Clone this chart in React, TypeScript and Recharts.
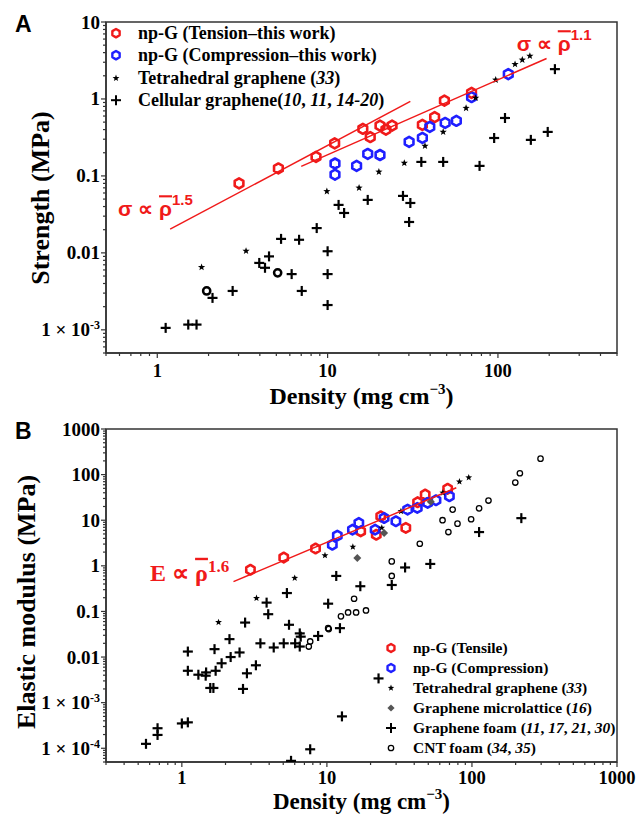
import React from 'react';
import { ScatterChart, Scatter, XAxis, YAxis, ReferenceArea, Legend } from 'recharts';

const SERIF = '"Liberation Serif", "Times New Roman", serif';
const SANS = '"Liberation Sans", Arial, sans-serif';
const RED = '#f01a1a';
const BLUE = '#1f1fff';
const AX = '#333';

// ---------------- Panel A: strength vs density ----------------
const aTensionDensity = [3.02, 5.14, 8.55, 11.0, 16.1, 17.8, 20.3, 22.0, 23.9, 36.0, 42.5, 48.5, 70.0];
const aTensionStrength = [0.08, 0.125, 0.177, 0.265, 0.41, 0.32, 0.45, 0.40, 0.45, 0.46, 0.58, 0.95, 1.2];
const aCompDensity = [11.05, 11.05, 14.8, 17.2, 20.3, 30.1, 36.0, 39.8, 49.0, 57.0, 70.0, 115];
const aCompStrength = [0.145, 0.104, 0.135, 0.193, 0.187, 0.277, 0.311, 0.433, 0.488, 0.52, 1.06, 2.1];
const aTetraDensity = [1.82, 3.32, 9.9, 15.3, 20.0, 28.2, 37.3, 47.7, 65.0, 74.0, 97.0, 126, 139, 154];
const aTetraStrength = [0.0065, 0.0106, 0.063, 0.07, 0.113, 0.147, 0.245, 0.373, 0.76, 1.03, 1.77, 2.83, 3.22, 3.62];
const aCellDensity = [216, 110, 95, 196, 156, 78, 47.7, 35.5, 27.7, 30.6, 30.1, 17.2, 11.6, 12.5, 8.63, 6.8, 5.33,
  10.0, 10.0, 10.0, 7.05, 6.15, 4.53, 3.97, 4.29, 2.77, 2.11, 1.70, 1.52, 1.12];
const aCellStrength = [2.44, 0.566, 0.311, 0.373, 0.294, 0.135, 0.152, 0.152, 0.055, 0.0445, 0.0252, 0.0488, 0.042,
  0.033, 0.021, 0.0148, 0.0152, 0.0105, 0.0053, 0.0021, 0.0032, 0.0053, 0.009, 0.0074, 0.0064, 0.0032, 0.0026,
  0.00117, 0.00117, 0.00106];
const aRingDensity = [1.95, 5.09];
const aRingStrength = [0.0032, 0.0055];
const aFit15Density = [1.19, 30.6];
const aFit15Strength = [0.0203, 0.93];
const aFit11Density = [7.0, 193];
const aFit11Strength = [0.133, 3.36];

const aXDomain = [0.5, 500];
const aYDomain = [5e-4, 10];
const aXMajor = [1, 10, 100];
const aXLabels = ['1', '10', '100'];
const aYMajor = [1e-3, 0.01, 0.1, 1, 10];
const aYLabels = ['1 × 10^-3', '0.01', '0.1', '1', '10'];

// ---------------- Panel B: elastic modulus vs density ----------------
const bTensileDensity = [2.97, 5.04, 8.35, 17.1, 21.9, 23.5, 35.0, 42.2, 47.6, 68.0];
const bTensileModulus = [0.82, 1.52, 2.4, 5.7, 4.8, 12.2, 6.8, 24.8, 36.6, 48.9];
const bCompDensity = [10.9, 11.8, 15.0, 16.6, 21.5, 24.8, 29.9, 36.0, 42.0, 49.5, 56.5, 69.9];
const bCompModulus = [2.9, 4.6, 6.2, 8.7, 6.2, 11.2, 9.5, 17.1, 18.6, 24.0, 27.4, 33.6];
const bTetraDensity = [1.79, 3.27, 6.0, 9.7, 15.1, 23.9, 32.4, 63.0, 82.0, 95.0];
const bTetraModulus = [0.058, 0.195, 0.54, 1.69, 2.6, 6.8, 15.7, 40.0, 70.0, 86.0];
const bLatticeDensity = [16.2, 24.8, 52.0];
const bLatticeModulus = [1.48, 5.25, 25.3];
const bFoamDensity = [219, 112, 51.6, 34.6, 28.0, 17.0, 11.6, 5.3, 3.84, 10.2, 3.94, 2.73, 5.48, 6.5, 6.6, 8.7, 12.3,
  3.48, 4.3, 5.04, 6.04, 6.5, 2.13, 1.68, 1.1, 1.1, 1.3, 1.47, 1.46, 1.71, 1.88, 2.17, 2.5, 3.24, 2.81, 2.64, 1.57,
  1.65, 22.7, 12.7, 7.67, 5.66, 1.0, 1.1, 0.68, 0.68, 0.566];
const bFoamModulus = [11.1, 5.5, 1.1, 0.92, 0.38, 0.357, 0.6, 0.253, 0.156, 0.148, 0.087, 0.057, 0.051, 0.033, 0.028,
  0.029, 0.043, 0.020, 0.0162, 0.020, 0.020, 0.017, 0.0247, 0.0149, 0.0132, 0.005, 0.0041, 0.0046, 0.0039, 0.005,
  0.0073, 0.01, 0.0126, 0.0066, 0.0044, 0.002, 0.0021, 0.0021, 0.0034, 5.0e-4, 9.5e-5, 5.3e-5, 3.5e-4, 3.7e-4,
  2.75e-4, 1.96e-4, 1.25e-4];
const bCntDensity = [297, 214, 199, 130, 112, 98.7, 79.5, 73.6, 62.7, 68.8, 43.7, 28.0, 28.0, 15.4, 12.5, 14.0, 15.9,
  18.6, 10.2, 10.3, 7.67, 7.5];
const bCntModulus = [224, 107, 67, 27, 18.2, 10.5, 8.4, 17.1, 10.0, 5.5, 3.05, 1.25, 0.6, 0.19, 0.078, 0.095, 0.095,
  0.105, 0.043, 0.041, 0.022, 0.017];
const bFitDensity = [2.27, 78];
const bFitModulus = [0.45, 51.4];

const bXDomain = [0.3, 1000];
const bYDomain = [5e-5, 1000];
const bXMajor = [1, 10, 100, 1000];
const bXLabels = ['1', '10', '100', '1000'];
const bYMajor = [1e-4, 1e-3, 0.01, 0.1, 1, 10, 100, 1000];
const bYLabels = ['1 × 10^-4', '1 × 10^-3', '0.01', '0.1', '1', '10', '100', '1000'];

// annotation anchors (data coordinates)
const aAnno15 = [{ x: 0.588, y: 0.0299 }];
const aAnno11 = [{ x: 128.9, y: 4.17 }];
const bAnno16 = [{ x: 0.604, y: 0.47 }];

const zip = (xs: number[], ys: number[]) => xs.map((x, i) => ({ x, y: ys[i] }));

function logTicks(lo: number, hi: number): number[] {
  const out: number[] = [];
  for (let e = Math.floor(Math.log10(lo)); e <= Math.ceil(Math.log10(hi)); e++) {
    for (let m = 1; m <= 9; m++) {
      const v = parseFloat((m * Math.pow(10, e)).toPrecision(6));
      if (v >= lo * 0.9999 && v <= hi * 1.0001) out.push(v);
    }
  }
  return out;
}

// ---------------- marker shapes ----------------
const hexPath = (cx: number, cy: number, r: number) => {
  const pts: string[] = [];
  for (let k = 0; k < 6; k++) {
    const a = (Math.PI / 3) * k - Math.PI / 2;
    pts.push(`${(cx + r * Math.cos(a)).toFixed(2)},${(cy + r * Math.sin(a)).toFixed(2)}`);
  }
  return 'M' + pts.join('L') + 'Z';
};
const Hex = (cx: number, cy: number, color: string, r = 5, w = 2.6) => (
  <path d={hexPath(cx, cy, r)} fill="none" stroke={color} strokeWidth={w} strokeLinejoin="round" />
);
const starPath = (cx: number, cy: number, R: number, r: number) => {
  const pts: string[] = [];
  for (let k = 0; k < 10; k++) {
    const a = (Math.PI / 5) * k - Math.PI / 2;
    const rr = k % 2 === 0 ? R : r;
    pts.push(`${(cx + rr * Math.cos(a)).toFixed(2)},${(cy + rr * Math.sin(a)).toFixed(2)}`);
  }
  return 'M' + pts.join('L') + 'Z';
};
const Star = (cx: number, cy: number, R = 3.8) => <path d={starPath(cx, cy, R, R * 0.42)} fill="#000" stroke="none" />;
const Cross = (cx: number, cy: number, s = 5, w = 2.2) => (
  <g stroke="#000" strokeWidth={w}>
    <line x1={cx - s} x2={cx + s} y1={cy} y2={cy} />
    <line x1={cx} x2={cx} y1={cy - s} y2={cy + s} />
  </g>
);
const Ring = (cx: number, cy: number, r = 3.6, w = 2.5) => (
  <circle cx={cx} cy={cy} r={r} fill="none" stroke="#000" strokeWidth={w} />
);
const SmallRing = (cx: number, cy: number) => <circle cx={cx} cy={cy} r={2.7} fill="none" stroke="#000" strokeWidth={1.3} />;
const Diamond = (cx: number, cy: number, s = 4) => (
  <path d={`M${cx},${cy - s}L${cx + s},${cy}L${cx},${cy + s}L${cx - s},${cy}Z`} fill="#555" stroke="none" />
);

// ---------------- ticks ----------------
const renderLabel = (lab: string) => {
  if (lab.includes('^')) {
    const [base, exp] = lab.split('^');
    return [
      <tspan key="b">{base}</tspan>,
      <tspan key="e" dy={-7} fontSize={12}>{exp}</tspan>,
    ];
  }
  return lab;
};
const isMajorIdx = (majors: number[], v: number) => majors.findIndex((m) => Math.abs(m - v) <= m * 1e-6);

const makeXTick = (majors: number[], labels: string[], dy: number) => (p: any) => {
  const { x, y, payload } = p;
  const idx = isMajorIdx(majors, payload.value);
  const major = idx >= 0;
  return (
    <g>
      <line x1={x} x2={x} y1={y} y2={y + (major ? 5 : 3)} stroke={AX} strokeWidth={1.2} />
      {major && (
        <text x={x} y={y + dy} textAnchor="middle" fontFamily={SERIF} fontWeight="bold" fontSize={18.5} fill="#000">
          {labels[idx]}
        </text>
      )}
    </g>
  );
};
const makeYTick = (majors: number[], labels: string[]) => (p: any) => {
  const { x, y, payload } = p;
  const idx = isMajorIdx(majors, payload.value);
  const major = idx >= 0;
  return (
    <g>
      <line x1={x} x2={x - (major ? 5 : 3)} y1={y} y2={y} stroke={AX} strokeWidth={1.2} />
      {major && (
        <text x={x - 6} y={y + 6.5} textAnchor="end" fontFamily={SERIF} fontWeight="bold" fontSize={19} fill="#000">
          {renderLabel(labels[idx])}
        </text>
      )}
    </g>
  );
};

// ---------------- titles ----------------
const xTitle = (baseline: number, size: number) => (props: any) => {
  const vb = props.viewBox || { x: 106, width: 511 };
  return (
    <text x={vb.x + vb.width / 2} y={baseline} textAnchor="middle" fontFamily={SERIF} fontWeight="bold" fontSize={size} fill="#000">
      Density (mg cm
      <tspan dy={-10} fontSize={15}>−3</tspan>
      <tspan dy={10}>)</tspan>
    </text>
  );
};
const yTitle = (text: string, cx: number, cy: number, letter: string, letterY: number) => () => (
  <g>
    <text
      x={cx}
      y={cy}
      transform={`rotate(-90, ${cx}, ${cy})`}
      textAnchor="middle"
      dominantBaseline="central"
      fontFamily={SERIF}
      fontWeight="bold"
      fontSize={26}
      fill="#000"
    >
      {text}
    </text>
    <text x={15} y={letterY} fontFamily={SANS} fontWeight="bold" fontSize={23} fill="#000">
      {letter}
    </text>
  </g>
);

// ---------------- annotations ----------------
const SigmaAnno = (exp: string) => (p: any) => (
  <text x={p.cx} y={p.cy} fill={RED} fontFamily={SANS} fontWeight="bold" fontSize={21}>
    <tspan>σ ∝ </tspan>
    <tspan style={{ textDecoration: 'overline' }}>ρ</tspan>
    <tspan dy={-11} fontSize={15}>{exp}</tspan>
  </text>
);
const EAnno = (p: any) => (
  <text x={p.cx} y={p.cy} fill={RED} fontFamily={SERIF} fontWeight="bold" fontSize={24}>
    <tspan>E ∝ </tspan>
    <tspan style={{ textDecoration: 'overline' }}>ρ</tspan>
    <tspan dy={-9} fontSize={17}>1.6</tspan>
  </text>
);

// ---------------- legend ----------------
type LegendItem = { marker: (cx: number, cy: number) => React.ReactNode; label: React.ReactNode };
const legendA: LegendItem[] = [
  { marker: (x, y) => Hex(x, y, RED, 4.2, 2.4), label: 'np-G (Tension–this work)' },
  { marker: (x, y) => Hex(x, y, BLUE, 4.2, 2.4), label: 'np-G (Compression–this work)' },
  { marker: (x, y) => Star(x, y, 3.6), label: <>Tetrahedral graphene (<i>33</i>)</> },
  { marker: (x, y) => Cross(x, y, 5, 2), label: <>Cellular graphene(<i>10</i>, <i>11</i>, <i>14-20</i>)</> },
];
const legendB: LegendItem[] = [
  { marker: (x, y) => Hex(x, y, RED, 4, 2.4), label: 'np-G (Tensile)' },
  { marker: (x, y) => Hex(x, y, BLUE, 4, 2.4), label: 'np-G (Compression)' },
  { marker: (x, y) => Star(x, y, 3.4), label: <>Tetrahedral graphene (<i>33</i>)</> },
  { marker: (x, y) => Diamond(x, y, 3.6), label: <>Graphene microlattice (<i>16</i>)</> },
  { marker: (x, y) => Cross(x, y, 5, 2), label: <>Graphene foam (<i>11</i>, <i>17</i>, <i>21</i>, <i>30</i>)</> },
  { marker: (x, y) => SmallRing(x, y), label: <>CNT foam (<i>34</i>, <i>35</i>)</> },
];
const LegendBox = (items: LegendItem[], fontSize: number, rowH: number) => () => (
  <div style={{ fontFamily: SERIF, fontWeight: 'bold', fontSize, color: '#000', lineHeight: 1 }}>
    {items.map((it, i) => (
      <div key={i} style={{ display: 'flex', alignItems: 'center', height: rowH, whiteSpace: 'nowrap' }}>
        <svg width={20} height={rowH} style={{ flex: 'none', overflow: 'visible' }}>
          {it.marker(10, rowH / 2)}
        </svg>
        <span style={{ marginLeft: 12 }}>{it.label}</span>
      </div>
    ))}
  </div>
);

const noShape = () => <g />;

export default function App() {
  const aXTicks = logTicks(aXDomain[0], aXDomain[1]);
  const aYTicks = logTicks(aYDomain[0], aYDomain[1]);
  const bXTicks = logTicks(bXDomain[0], bXDomain[1]);
  const bYTicks = logTicks(bYDomain[0], bYDomain[1]);

  return (
    <div style={{ position: 'absolute', left: 0, top: 0, width: 637, height: 814, background: '#fff' }}>
      {/* Panel A */}
      <div style={{ position: 'absolute', left: 0, top: 0 }}>
        <ScatterChart width={637} height={412} margin={{ top: 22, right: 20, bottom: 19, left: 46 }}>
          <XAxis
            type="number"
            dataKey="x"
            scale="log"
            domain={aXDomain}
            allowDataOverflow
            ticks={aXTicks}
            interval={0}
            tickSize={0}
            tickMargin={0}
            tickLine={false}
            tick={makeXTick(aXMajor, aXLabels, 24)}
            axisLine={{ stroke: AX, strokeWidth: 1.5 }}
            height={40}
            label={{ content: xTitle(404, 24) }}
          />
          <YAxis
            type="number"
            dataKey="y"
            scale="log"
            domain={aYDomain}
            allowDataOverflow
            ticks={aYTicks}
            interval={0}
            tickSize={0}
            tickMargin={0}
            tickLine={false}
            tick={makeYTick(aYMajor, aYLabels)}
            axisLine={{ stroke: AX, strokeWidth: 1.5 }}
            width={60}
            label={{ content: yTitle('Strength (MPa)', 40, 198, 'A', 32) }}
          />
          <ReferenceArea x1={aXDomain[0]} x2={aXDomain[1]} y1={aYDomain[0]} y2={aYDomain[1]} fill="none" stroke={AX} strokeWidth={1.5} ifOverflow="visible" />
          <Scatter data={zip(aTensionDensity, aTensionStrength)} isAnimationActive={false} shape={(p: any) => Hex(p.cx, p.cy, RED)} />
          <Scatter data={zip(aCompDensity, aCompStrength)} isAnimationActive={false} shape={(p: any) => Hex(p.cx, p.cy, BLUE)} />
          <Scatter data={zip(aTetraDensity, aTetraStrength)} isAnimationActive={false} shape={(p: any) => Star(p.cx, p.cy)} />
          <Scatter data={zip(aCellDensity, aCellStrength)} isAnimationActive={false} shape={(p: any) => Cross(p.cx, p.cy)} />
          <Scatter data={zip(aRingDensity, aRingStrength)} isAnimationActive={false} shape={(p: any) => Ring(p.cx, p.cy)} />
          <Scatter data={zip(aFit15Density, aFit15Strength)} isAnimationActive={false} line={{ stroke: RED, strokeWidth: 1.5 }} shape={noShape} />
          <Scatter data={zip(aFit11Density, aFit11Strength)} isAnimationActive={false} line={{ stroke: RED, strokeWidth: 1.5 }} shape={noShape} />
          <Scatter data={aAnno15} isAnimationActive={false} shape={SigmaAnno('1.5')} />
          <Scatter data={aAnno11} isAnimationActive={false} shape={SigmaAnno('1.1')} />
          <Legend
            layout="vertical"
            align="center"
            verticalAlign="middle"
            content={LegendBox(legendA, 18, 22.4)}
            wrapperStyle={{ left: 106, top: 21.8, width: 'auto', height: 'auto' }}
          />
        </ScatterChart>
      </div>

      {/* Panel B */}
      <div style={{ position: 'absolute', left: 0, top: 412 }}>
        <ScatterChart width={637} height={402} margin={{ top: 17, right: 20, bottom: 12, left: 46 }}>
          <XAxis
            type="number"
            dataKey="x"
            scale="log"
            domain={bXDomain}
            allowDataOverflow
            ticks={bXTicks}
            interval={0}
            tickSize={0}
            tickMargin={0}
            tickLine={false}
            tick={makeXTick(bXMajor, bXLabels, 22)}
            axisLine={{ stroke: AX, strokeWidth: 1.5 }}
            height={40}
            label={{ content: xTitle(396.5, 23) }}
          />
          <YAxis
            type="number"
            dataKey="y"
            scale="log"
            domain={bYDomain}
            allowDataOverflow
            ticks={bYTicks}
            interval={0}
            tickSize={0}
            tickMargin={0}
            tickLine={false}
            tick={makeYTick(bYMajor, bYLabels)}
            axisLine={{ stroke: AX, strokeWidth: 1.5 }}
            width={60}
            label={{ content: yTitle('Elastic modulus (MPa)', 26, 190, 'B', 27) }}
          />
          <ReferenceArea x1={bXDomain[0]} x2={bXDomain[1]} y1={bYDomain[0]} y2={bYDomain[1]} fill="none" stroke={AX} strokeWidth={1.5} ifOverflow="visible" />
          <Scatter data={zip(bTensileDensity, bTensileModulus)} isAnimationActive={false} shape={(p: any) => Hex(p.cx, p.cy, RED, 4.8)} />
          <Scatter data={zip(bCompDensity, bCompModulus)} isAnimationActive={false} shape={(p: any) => Hex(p.cx, p.cy, BLUE, 4.8)} />
          <Scatter data={zip(bTetraDensity, bTetraModulus)} isAnimationActive={false} shape={(p: any) => Star(p.cx, p.cy, 3.6)} />
          <Scatter data={zip(bLatticeDensity, bLatticeModulus)} isAnimationActive={false} shape={(p: any) => Diamond(p.cx, p.cy)} />
          <Scatter data={zip(bFoamDensity, bFoamModulus)} isAnimationActive={false} shape={(p: any) => Cross(p.cx, p.cy)} />
          <Scatter data={zip(bCntDensity, bCntModulus)} isAnimationActive={false} shape={(p: any) => SmallRing(p.cx, p.cy)} />
          <Scatter data={zip(bFitDensity, bFitModulus)} isAnimationActive={false} line={{ stroke: RED, strokeWidth: 1.5 }} shape={noShape} />
          <Scatter data={bAnno16} isAnimationActive={false} shape={EAnno} />
          <Legend
            layout="vertical"
            align="center"
            verticalAlign="middle"
            content={LegendBox(legendB, 15.5, 20)}
            wrapperStyle={{ left: 381, top: 226, width: 'auto', height: 'auto' }}
          />
        </ScatterChart>
      </div>
    </div>
  );
}
